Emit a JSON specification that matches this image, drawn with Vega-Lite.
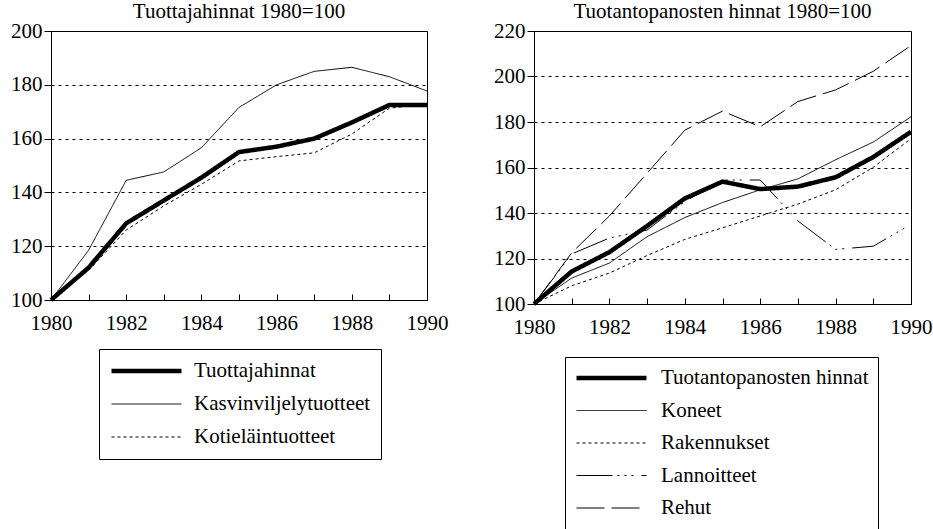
{
  "$schema": "https://vega.github.io/schema/vega-lite/v6.json",
  "background": "white",
  "padding": {"left": 10, "top": 0, "right": 5, "bottom": 0},
  "config": {
    "font": "Liberation Serif",
    "view": {"stroke": "black", "strokeWidth": 1},
    "axis": {
      "labelFont": "Liberation Serif", "labelFontSize": 21, "labelColor": "black",
      "domainColor": "black", "tickColor": "black", "domainWidth": 1, "tickWidth": 1
    },
    "title": {"font": "Liberation Serif", "fontSize": 21, "fontWeight": "normal", "color": "black", "anchor": "middle", "baseline": "alphabetic"},
    "legend": {
      "orient": "none", "direction": "vertical", "strokeColor": "black",
      "symbolType": "stroke", "symbolSize": 4900, "symbolStrokeColor": "black",
      "labelFont": "Liberation Serif", "labelFontSize": 21, "labelColor": "black",
      "labelLimit": 400, "clipHeight": 24
    }
  },
  "spacing": 44,
  "resolve": {
    "scale": {"x": "independent", "y": "independent", "strokeDash": "independent", "strokeWidth": "independent"},
    "legend": {"strokeDash": "independent", "strokeWidth": "independent"}
  },
  "hconcat": [
    {
      "title": {"text": "Tuottajahinnat 1980=100", "offset": -1.5},
      "width": 376,
      "height": 269,
      "data": {"values": [
        {"vuosi": 1980, "sarja": "Tuottajahinnat", "indeksi": 100},
        {"vuosi": 1981, "sarja": "Tuottajahinnat", "indeksi": 112},
        {"vuosi": 1982, "sarja": "Tuottajahinnat", "indeksi": 128.5},
        {"vuosi": 1983, "sarja": "Tuottajahinnat", "indeksi": 137},
        {"vuosi": 1984, "sarja": "Tuottajahinnat", "indeksi": 145.5},
        {"vuosi": 1985, "sarja": "Tuottajahinnat", "indeksi": 155},
        {"vuosi": 1986, "sarja": "Tuottajahinnat", "indeksi": 157},
        {"vuosi": 1987, "sarja": "Tuottajahinnat", "indeksi": 160},
        {"vuosi": 1988, "sarja": "Tuottajahinnat", "indeksi": 166},
        {"vuosi": 1989, "sarja": "Tuottajahinnat", "indeksi": 172.5},
        {"vuosi": 1990, "sarja": "Tuottajahinnat", "indeksi": 172.5},
        {"vuosi": 1980, "sarja": "Kasvinviljelytuotteet", "indeksi": 100},
        {"vuosi": 1981, "sarja": "Kasvinviljelytuotteet", "indeksi": 118.5},
        {"vuosi": 1982, "sarja": "Kasvinviljelytuotteet", "indeksi": 144.5},
        {"vuosi": 1983, "sarja": "Kasvinviljelytuotteet", "indeksi": 147.6},
        {"vuosi": 1984, "sarja": "Kasvinviljelytuotteet", "indeksi": 156.6},
        {"vuosi": 1985, "sarja": "Kasvinviljelytuotteet", "indeksi": 171.6},
        {"vuosi": 1986, "sarja": "Kasvinviljelytuotteet", "indeksi": 180},
        {"vuosi": 1987, "sarja": "Kasvinviljelytuotteet", "indeksi": 185},
        {"vuosi": 1988, "sarja": "Kasvinviljelytuotteet", "indeksi": 186.5},
        {"vuosi": 1989, "sarja": "Kasvinviljelytuotteet", "indeksi": 183},
        {"vuosi": 1990, "sarja": "Kasvinviljelytuotteet", "indeksi": 177.7},
        {"vuosi": 1980, "sarja": "Kotieläintuotteet", "indeksi": 100},
        {"vuosi": 1981, "sarja": "Kotieläintuotteet", "indeksi": 111},
        {"vuosi": 1982, "sarja": "Kotieläintuotteet", "indeksi": 126},
        {"vuosi": 1983, "sarja": "Kotieläintuotteet", "indeksi": 135},
        {"vuosi": 1984, "sarja": "Kotieläintuotteet", "indeksi": 143},
        {"vuosi": 1985, "sarja": "Kotieläintuotteet", "indeksi": 151.7},
        {"vuosi": 1986, "sarja": "Kotieläintuotteet", "indeksi": 153.3},
        {"vuosi": 1987, "sarja": "Kotieläintuotteet", "indeksi": 154.7},
        {"vuosi": 1988, "sarja": "Kotieläintuotteet", "indeksi": 161.7},
        {"vuosi": 1989, "sarja": "Kotieläintuotteet", "indeksi": 171.3},
        {"vuosi": 1990, "sarja": "Kotieläintuotteet", "indeksi": 172.8}
      ]},
      "mark": {"type": "line", "color": "black", "strokeJoin": "round"},
      "encoding": {
        "x": {
          "field": "vuosi", "type": "quantitative",
          "scale": {"domain": [1980, 1990], "nice": false, "zero": false},
          "axis": {
            "title": null, "grid": false,
            "values": [1980, 1981, 1982, 1983, 1984, 1985, 1986, 1987, 1988, 1989, 1990],
            "labelExpr": "datum.value % 2 == 0 ? datum.label : ''",
            "format": "d", "tickSize": -6, "labelPadding": 18, "labelFlush": false
          }
        },
        "y": {
          "field": "indeksi", "type": "quantitative",
          "scale": {"domain": [100, 200], "nice": false, "zero": false},
          "axis": {
            "title": null, "values": [100, 120, 140, 160, 180, 200],
            "grid": true, "gridDash": [3, 4], "gridColor": "black", "gridOpacity": 1,
            "tickSize": 7, "labelPadding": 2, "labelFlush": false
          }
        },
        "strokeDash": {
          "field": "sarja", "type": "nominal",
          "scale": {"type": "ordinal", "domain": ["Tuottajahinnat", "Kasvinviljelytuotteet", "Kotieläintuotteet"], "range": [[1, 0], [1, 0], [3, 3]]},
          "legend": {"title": null, "legendX": 48, "legendY": 318, "padding": 10, "labelOffset": 10, "rowPadding": 9}
        },
        "strokeWidth": {
          "field": "sarja", "type": "nominal",
          "scale": {"type": "ordinal", "domain": ["Tuottajahinnat", "Kasvinviljelytuotteet", "Kotieläintuotteet"], "range": [4.5, 1, 1]},
          "legend": {"title": null, "legendX": 48, "legendY": 318, "padding": 10, "labelOffset": 10, "rowPadding": 9}
        }
      }
    },
    {
      "title": {"text": "Tuotantopanosten hinnat 1980=100", "offset": -1.5},
      "width": 377,
      "height": 273,
      "data": {"values": [
        {"vuosi": 1980, "sarja": "Tuotantopanosten hinnat", "indeksi": 100},
        {"vuosi": 1981, "sarja": "Tuotantopanosten hinnat", "indeksi": 114.3},
        {"vuosi": 1982, "sarja": "Tuotantopanosten hinnat", "indeksi": 122.8},
        {"vuosi": 1983, "sarja": "Tuotantopanosten hinnat", "indeksi": 134.3},
        {"vuosi": 1984, "sarja": "Tuotantopanosten hinnat", "indeksi": 146.4},
        {"vuosi": 1985, "sarja": "Tuotantopanosten hinnat", "indeksi": 153.8},
        {"vuosi": 1986, "sarja": "Tuotantopanosten hinnat", "indeksi": 150.5},
        {"vuosi": 1987, "sarja": "Tuotantopanosten hinnat", "indeksi": 151.6},
        {"vuosi": 1988, "sarja": "Tuotantopanosten hinnat", "indeksi": 155.7},
        {"vuosi": 1989, "sarja": "Tuotantopanosten hinnat", "indeksi": 164.6},
        {"vuosi": 1990, "sarja": "Tuotantopanosten hinnat", "indeksi": 175.7},
        {"vuosi": 1980, "sarja": "Koneet", "indeksi": 100},
        {"vuosi": 1981, "sarja": "Koneet", "indeksi": 111.4},
        {"vuosi": 1982, "sarja": "Koneet", "indeksi": 118},
        {"vuosi": 1983, "sarja": "Koneet", "indeksi": 129.6},
        {"vuosi": 1984, "sarja": "Koneet", "indeksi": 138},
        {"vuosi": 1985, "sarja": "Koneet", "indeksi": 144.6},
        {"vuosi": 1986, "sarja": "Koneet", "indeksi": 150.2},
        {"vuosi": 1987, "sarja": "Koneet", "indeksi": 155},
        {"vuosi": 1988, "sarja": "Koneet", "indeksi": 163.4},
        {"vuosi": 1989, "sarja": "Koneet", "indeksi": 171.2},
        {"vuosi": 1990, "sarja": "Koneet", "indeksi": 182.3},
        {"vuosi": 1980, "sarja": "Rakennukset", "indeksi": 100},
        {"vuosi": 1981, "sarja": "Rakennukset", "indeksi": 108},
        {"vuosi": 1982, "sarja": "Rakennukset", "indeksi": 113.6},
        {"vuosi": 1983, "sarja": "Rakennukset", "indeksi": 121.3},
        {"vuosi": 1984, "sarja": "Rakennukset", "indeksi": 128.4},
        {"vuosi": 1985, "sarja": "Rakennukset", "indeksi": 133.5},
        {"vuosi": 1986, "sarja": "Rakennukset", "indeksi": 138.7},
        {"vuosi": 1987, "sarja": "Rakennukset", "indeksi": 143.9},
        {"vuosi": 1988, "sarja": "Rakennukset", "indeksi": 150.2},
        {"vuosi": 1989, "sarja": "Rakennukset", "indeksi": 160.1},
        {"vuosi": 1990, "sarja": "Rakennukset", "indeksi": 172.7},
        {"vuosi": 1980, "sarja": "Lannoitteet", "indeksi": 100},
        {"vuosi": 1981, "sarja": "Lannoitteet", "indeksi": 122},
        {"vuosi": 1982, "sarja": "Lannoitteet", "indeksi": 129},
        {"vuosi": 1983, "sarja": "Lannoitteet", "indeksi": 132.5},
        {"vuosi": 1984, "sarja": "Lannoitteet", "indeksi": 145},
        {"vuosi": 1985, "sarja": "Lannoitteet", "indeksi": 154.5},
        {"vuosi": 1986, "sarja": "Lannoitteet", "indeksi": 154.5},
        {"vuosi": 1987, "sarja": "Lannoitteet", "indeksi": 136.5},
        {"vuosi": 1988, "sarja": "Lannoitteet", "indeksi": 124},
        {"vuosi": 1989, "sarja": "Lannoitteet", "indeksi": 125.4},
        {"vuosi": 1990, "sarja": "Lannoitteet", "indeksi": 135},
        {"vuosi": 1980, "sarja": "Rehut", "indeksi": 100},
        {"vuosi": 1981, "sarja": "Rehut", "indeksi": 122.5},
        {"vuosi": 1982, "sarja": "Rehut", "indeksi": 138.7},
        {"vuosi": 1983, "sarja": "Rehut", "indeksi": 157.5},
        {"vuosi": 1984, "sarja": "Rehut", "indeksi": 176.4},
        {"vuosi": 1985, "sarja": "Rehut", "indeksi": 184.8},
        {"vuosi": 1986, "sarja": "Rehut", "indeksi": 177.9},
        {"vuosi": 1987, "sarja": "Rehut", "indeksi": 189},
        {"vuosi": 1988, "sarja": "Rehut", "indeksi": 194.1},
        {"vuosi": 1989, "sarja": "Rehut", "indeksi": 202.3},
        {"vuosi": 1990, "sarja": "Rehut", "indeksi": 213.6}
      ]},
      "mark": {"type": "line", "color": "black", "strokeJoin": "round"},
      "encoding": {
        "x": {
          "field": "vuosi", "type": "quantitative",
          "scale": {"domain": [1980, 1990], "nice": false, "zero": false},
          "axis": {
            "title": null, "grid": false,
            "values": [1980, 1981, 1982, 1983, 1984, 1985, 1986, 1987, 1988, 1989, 1990],
            "labelExpr": "datum.value % 2 == 0 ? datum.label : ''",
            "format": "d", "tickSize": -6, "labelPadding": 18, "labelFlush": false
          }
        },
        "y": {
          "field": "indeksi", "type": "quantitative",
          "scale": {"domain": [100, 220], "nice": false, "zero": false},
          "axis": {
            "title": null, "values": [100, 120, 140, 160, 180, 200, 220],
            "grid": true, "gridDash": [3, 4], "gridColor": "black", "gridOpacity": 1,
            "tickSize": 7, "labelPadding": 2, "labelFlush": false
          }
        },
        "strokeDash": {
          "field": "sarja", "type": "nominal",
          "scale": {"type": "ordinal", "domain": ["Tuotantopanosten hinnat", "Koneet", "Rakennukset", "Lannoitteet", "Rehut"], "range": [[1, 0], [1, 0], [3, 3], [36, 5, 2, 5, 2, 5, 2, 8], [28, 7]]},
          "legend": {"title": null, "legendX": 31, "legendY": 326, "padding": 9, "labelOffset": 12, "rowPadding": 8.5}
        },
        "strokeWidth": {
          "field": "sarja", "type": "nominal",
          "scale": {"type": "ordinal", "domain": ["Tuotantopanosten hinnat", "Koneet", "Rakennukset", "Lannoitteet", "Rehut"], "range": [4.5, 1, 1, 1, 1]},
          "legend": {"title": null, "legendX": 31, "legendY": 326, "padding": 9, "labelOffset": 12, "rowPadding": 8.5}
        }
      }
    }
  ]
}
